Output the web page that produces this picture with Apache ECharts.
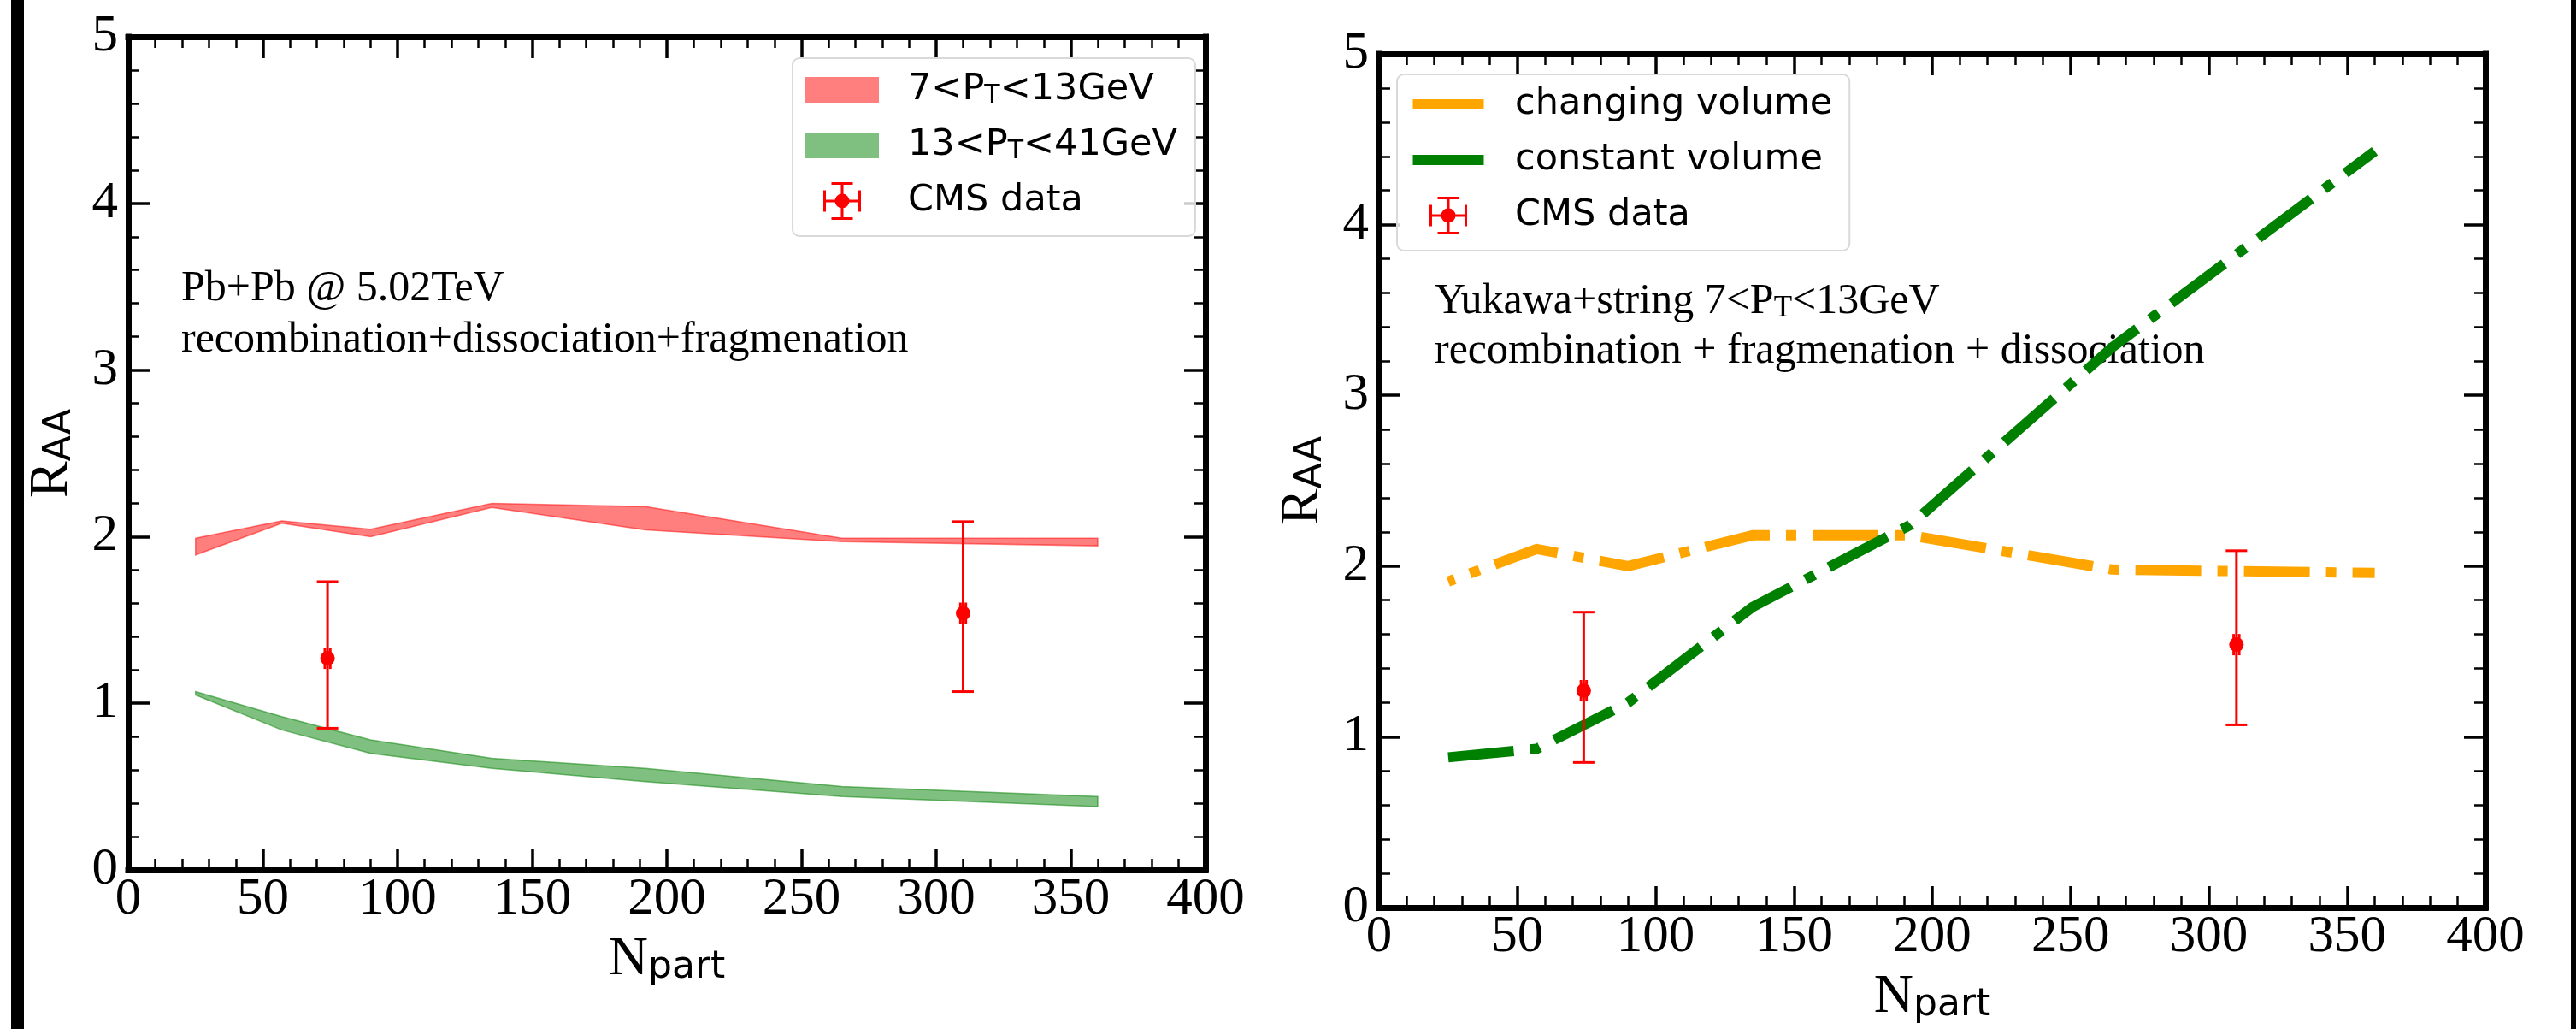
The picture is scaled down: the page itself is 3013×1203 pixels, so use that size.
<!DOCTYPE html>
<html>
<head>
<meta charset="utf-8">
<script src="https://cdn.jsdelivr.net/npm/echarts@6/dist/echarts.min.js"></script>
<style>
  html, body { margin: 0; padding: 0; background: #fff; }
  #chart { width: 3013px; height: 1203px; }
</style>
</head>
<body>
<div id="chart"></div>
<script>
// N_part points where the model was evaluated
const npart = [25, 57, 90, 135, 192, 265, 360];

// left panel: bands (lower / upper edge)
const lowPtUpper = [1.99, 2.095, 2.045, 2.2, 2.18, 1.99, 1.99];
const lowPtLower = [1.89, 2.08, 2.0, 2.175, 2.04, 1.97, 1.945];
const highPtUpper = [1.07, 0.92, 0.78, 0.67, 0.61, 0.50, 0.44];
const highPtLower = [1.05, 0.84, 0.70, 0.61, 0.53, 0.44, 0.38];

// right panel: curves
const changingVolume = [1.91, 2.10, 2.0, 2.18, 2.18, 1.98, 1.96];
const constantVolume = [0.88, 0.93, 1.2, 1.76, 2.24, 3.28, 4.43];

// CMS data
const cmsX = [74, 310];
const cmsY = [1.27, 1.54];
const cmsLow = [0.85, 1.07];
const cmsHigh = [1.73, 2.09];
const cmsXErr = [1, 1];

const xTicks = {min: 0, max: 400, interval: 50};
const yTicks = {min: 0, max: 5, interval: 1};

const SERIF = 'Liberation Serif';
const SANS = 'DejaVu Sans';
const RED = '#ff0000';

const chart = echarts.init(document.getElementById('chart'), null, {renderer: 'canvas'});

// frame axis (labels on bottom / left, mirrored ticks on top / right)
const makeAxis = (grid, pos, isX, withLabel, name) => {
    const t = isX ? xTicks : yTicks;
    return {
        type: 'value', gridIndex: grid, position: pos,
        min: t.min, max: t.max, interval: t.interval,
        axisLine: {show: true, onZero: false, lineStyle: {color: '#000', width: 7, cap: 'square'}},
        axisTick: {show: true, inside: true, length: 25, lineStyle: {color: '#000', width: 3.5}},
        minorTick: {show: true, splitNumber: 5, length: 13, lineStyle: {color: '#000', width: 2.5}},
        splitLine: {show: false},
        minorSplitLine: {show: false},
        axisLabel: {
            show: withLabel, inside: false, margin: isX ? 4 : 12,
            fontFamily: SERIF, fontSize: 61, color: '#000',
            showMinLabel: true, showMaxLabel: true
        },
        name: withLabel ? name : '',
        nameLocation: 'middle',
        nameGap: isX ? 73 : 57,
        nameRotate: isX ? 0 : 90,
        nameTextStyle: {
            fontFamily: SERIF, fontSize: 64, color: '#000', lineHeight: 64,
            rich: {sub: {fontFamily: SANS, fontSize: 44, lineHeight: 31, verticalAlign: 'bottom', color: '#000'}}
        }
    };
};

// filled band between two edges
const bandSeries = (name, grid, upper, lower, color) => ({
    type: 'custom', name: name, xAxisIndex: grid * 2, yAxisIndex: grid * 2,
    coordinateSystem: 'cartesian2d',
    itemStyle: {color: color},
    encode: {x: 0, y: [1, 2]},
    data: npart.map((x, i) => [x, lower[i], upper[i]]),
    renderItem: (params, api) => {
        if (params.dataIndex !== 0) return {type: 'group', children: []};
        const top = npart.map((x, i) => api.coord([x, upper[i]]));
        const bottom = npart.map((x, i) => api.coord([x, lower[i]])).reverse();
        return {
            type: 'polygon',
            shape: {points: top.concat(bottom)},
            style: {fill: color, stroke: color, lineWidth: 1.5}
        };
    }
});

// CMS points with error bars
const cmsSeries = (grid) => ({
    type: 'custom', name: 'CMS data', xAxisIndex: grid * 2, yAxisIndex: grid * 2,
    coordinateSystem: 'cartesian2d',
    itemStyle: {color: RED},
    z: 5,
    encode: {x: 0, y: 1},
    data: cmsX.map((x, i) => [x, cmsY[i], cmsLow[i], cmsHigh[i], cmsXErr[i]]),
    renderItem: (params, api) => {
        const x = api.value(0), y = api.value(1);
        const c = api.coord([x, y]);
        const lo = api.coord([x, api.value(2)]);
        const hi = api.coord([x, api.value(3)]);
        const l = api.coord([x - api.value(4), y]);
        const r = api.coord([x + api.value(4), y]);
        const cap = 12.5;
        const st = {stroke: RED, lineWidth: 3};
        const line = (x1, y1, x2, y2) => ({type: 'line', shape: {x1, y1, x2, y2}, style: st});
        return {
            type: 'group',
            children: [
                line(lo[0], lo[1], hi[0], hi[1]),
                line(hi[0] - cap, hi[1], hi[0] + cap, hi[1]),
                line(lo[0] - cap, lo[1], lo[0] + cap, lo[1]),
                line(l[0], l[1], r[0], r[1]),
                line(l[0], l[1] - cap, l[0], l[1] + cap),
                line(r[0], r[1] - cap, r[0], r[1] + cap),
                {type: 'circle', shape: {cx: c[0], cy: c[1], r: 8.5}, style: {fill: RED}}
            ]
        };
    }
});

const dashDot = {width: 12, type: [77, 19, 12, 19], cap: 'butt', join: 'round'};

// legend icons (86 x 44 box, tiny corner squares keep the box size)
const BOX = 'M0,0h0.1v0.1h-0.1z M85.9,43.9h0.1v0.1h-0.1z ';
const patchIcon = 'path://' + BOX + 'M0,7h86v30h-86z';
const lineIcon = 'path://' + BOX + 'M1.5,16h83v12h-83z';
const cmsIcon = 'path://' + BOX +
    'M41.5,1h3v42h-3z M30.5,0h25v3h-25z M30.5,41h25v3h-25z ' +
    'M21,20.5h44v3h-44z M21,9.5h3v25h-3z M62,9.5h3v25h-3z ' +
    'M51.5,22a8.5,8.5 0 1,1 -17,0a8.5,8.5 0 1,1 17,0z';

const legendNames = {
    '7<PT<13GeV': '7<P{sub|T}<13GeV',
    '13<PT<41GeV': '13<P{sub|T}<41GeV'
};

const legendBase = {
    orient: 'vertical', selectedMode: false,
    itemWidth: 86, itemHeight: 44, itemGap: 22,
    borderColor: '#d9d9d9', borderWidth: 2, borderRadius: 8,
    backgroundColor: 'rgba(255,255,255,0.8)',
    formatter: (name) => legendNames[name] || name,
    textStyle: {
        fontFamily: SANS, fontSize: 43, color: '#000', lineHeight: 44,
        rich: {sub: {fontFamily: SANS, fontSize: 30, lineHeight: 25, verticalAlign: 'bottom', color: '#000'}}
    }
};
const plain = (color) => ({color: color, borderWidth: 0, borderColor: 'transparent'});

const option = {
    animation: false,
    backgroundColor: '#fff',
    grid: [
        {left: 150, top: 43, width: 1260, height: 974},
        {left: 1613, top: 63, width: 1294, height: 1000}
    ],
    xAxis: [
        makeAxis(0, 'bottom', true, true, 'N{sub|part}'),
        makeAxis(0, 'top', true, false),
        makeAxis(1, 'bottom', true, true, 'N{sub|part}'),
        makeAxis(1, 'top', true, false)
    ],
    yAxis: [
        makeAxis(0, 'left', false, true, 'R{sub|AA}'),
        makeAxis(0, 'right', false, false),
        makeAxis(1, 'left', false, true, 'R{sub|AA}'),
        makeAxis(1, 'right', false, false)
    ],
    legend: [
        Object.assign({}, legendBase, {
            left: 927, top: 68, padding: [15, 21, 19, 15], itemGap: 21,
            textStyle: Object.assign({}, legendBase.textStyle, {padding: [0, 0, 0, 29]}),
            data: [
                {name: '7<PT<13GeV', icon: patchIcon, itemStyle: plain('rgba(255,0,0,0.5)')},
                {name: '13<PT<41GeV', icon: patchIcon, itemStyle: plain('rgba(0,128,0,0.5)')},
                {name: 'CMS data', icon: cmsIcon, itemStyle: plain(RED)}
            ]
        }),
        Object.assign({}, legendBase, {
            left: 1634, top: 87, padding: [13, 20, 19, 17], itemGap: 21,
            textStyle: Object.assign({}, legendBase.textStyle, {padding: [0, 0, 0, 30]}),
            data: [
                {name: 'changing volume', icon: lineIcon, itemStyle: plain('#ffa500'), lineStyle: {width: 0}},
                {name: 'constant volume', icon: lineIcon, itemStyle: plain('#008000'), lineStyle: {width: 0}},
                {name: 'CMS data', icon: cmsIcon, itemStyle: plain(RED)}
            ]
        })
    ],
    graphic: [
        {type: 'rect', shape: {x: 13, y: 0, width: 15, height: 1203}, style: {fill: '#000'}},
        {type: 'rect', shape: {x: 3007, y: 0, width: 6, height: 1203}, style: {fill: '#000'}},
        {type: 'text', x: 212, y: 338, style: {
            text: 'Pb+Pb @ 5.02TeV', fontFamily: SERIF, fontSize: 50, fill: '#000', verticalAlign: 'middle'}},
        {type: 'text', x: 212, y: 398, style: {
            text: 'recombination+dissociation+fragmenation', fontFamily: SERIF, fontSize: 50, fill: '#000', verticalAlign: 'middle'}},
        {type: 'text', x: 1678, y: 353, style: {
            text: 'Yukawa+string 7<P{sub|T}<13GeV', fontFamily: SERIF, fontSize: 50, lineHeight: 50,
            fill: '#000', verticalAlign: 'middle',
            rich: {sub: {fontFamily: SERIF, fontSize: 35, lineHeight: 26, verticalAlign: 'bottom', fill: '#000'}}}},
        {type: 'text', x: 1678, y: 411, style: {
            text: 'recombination + fragmenation + dissociation', fontFamily: SERIF, fontSize: 50, fill: '#000', verticalAlign: 'middle'}}
    ],
    series: [
        bandSeries('7<PT<13GeV', 0, lowPtUpper, lowPtLower, 'rgba(255,0,0,0.5)'),
        bandSeries('13<PT<41GeV', 0, highPtUpper, highPtLower, 'rgba(0,128,0,0.5)'),
        cmsSeries(0),
        {
            type: 'line', name: 'changing volume', xAxisIndex: 2, yAxisIndex: 2,
            showSymbol: false, symbol: 'none', color: '#ffa500',
            lineStyle: Object.assign({color: '#ffa500', dashOffset: 51}, dashDot),
            data: npart.map((x, i) => [x, changingVolume[i]]).reverse()
        },
        {
            type: 'line', name: 'constant volume', xAxisIndex: 2, yAxisIndex: 2,
            showSymbol: false, symbol: 'none', color: '#008000',
            lineStyle: Object.assign({color: '#008000'}, dashDot),
            data: npart.map((x, i) => [x, constantVolume[i]])
        },
        cmsSeries(1)
    ]
};

chart.setOption(option);
</script>
</body>
</html>
